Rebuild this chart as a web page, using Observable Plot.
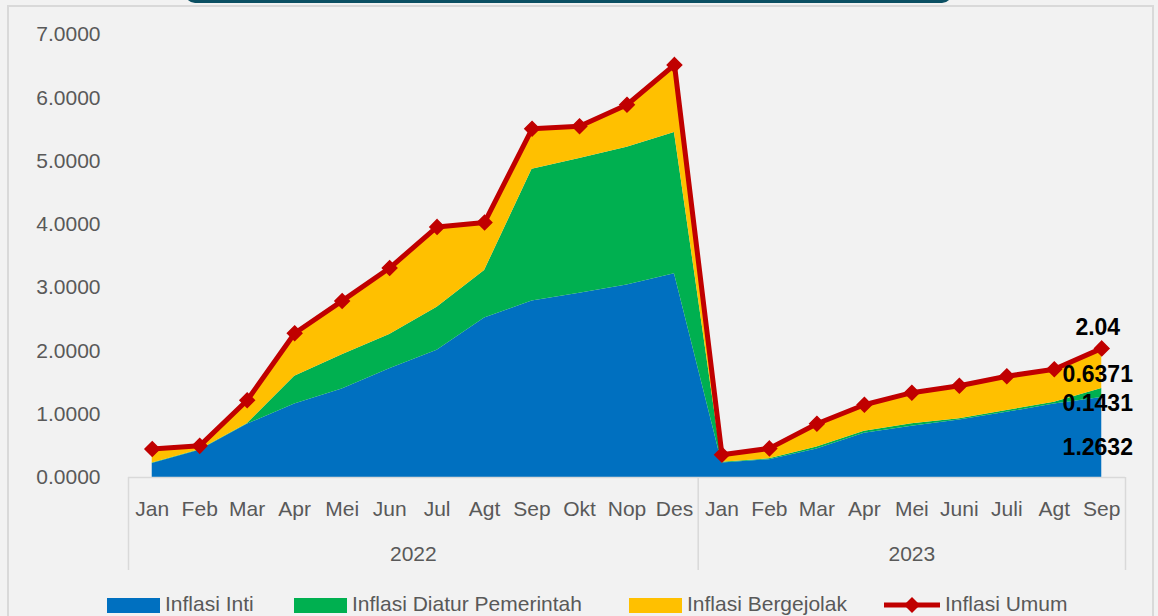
<!DOCTYPE html>
<html>
<head>
<meta charset="utf-8">
<script src="https://cdn.jsdelivr.net/npm/d3@7"></script>
<script src="https://cdn.jsdelivr.net/npm/@observablehq/plot@0.6"></script>
<style>
  html, body { margin: 0; padding: 0; background: #f2f2f2; width: 1158px; height: 616px; overflow: hidden;
    font-family: "Liberation Sans", Arial, sans-serif; }
  #wrap { position: relative; width: 1158px; height: 616px; }
  .frame { position: absolute; left: 7px; top: 5px; width: 1147px; height: 660px; border: 2px solid #d9d9d9; box-sizing: border-box; }
  .band { position: absolute; left: 185px; top: -12px; width: 767px; height: 15px; background: #0b5063; border-radius: 0 0 10px 10px; }
  #chart { position: absolute; left: 0; top: 0; }
  #legend { position: absolute; left: 0; top: 592px; width: 1158px; height: 24px;
    font-size: 21px; color: #595959; line-height: 24px; white-space: nowrap; }
  .item { position: absolute; top: 0; display: flex; align-items: flex-start; gap: 5px; height: 24px; }
  .item:nth-child(1) { left: 107px; }
  .item:nth-child(2) { left: 294px; }
  .item:nth-child(3) { left: 629px; }
  .item:nth-child(4) { left: 884px; }
  .sw { width: 53px; height: 15px; display: inline-block; margin-top: 6px; }
  .item svg { margin-top: 3px; }
</style>
</head>
<body>
<div id="wrap">
  <div class="frame"></div>
  <div class="band"></div>
  <div id="chart"></div>
  <div id="legend"></div>
</div>
<script>
// ---- data ----
const months2022 = ["Jan","Feb","Mar","Apr","Mei","Jun","Jul","Agt","Sep","Okt","Nop","Des"];
const months2023 = ["Jan","Feb","Mar","Apr","Mei","Juni","Juli","Agt","Sep"];
const years = ["2022", "2023"];
const seriesNames = ["Inflasi Inti", "Inflasi Diatur Pemerintah", "Inflasi Bergejolak"];
const lineName = "Inflasi Umum";
const inti       = [0.22, 0.43, 0.84, 1.16, 1.40, 1.72, 2.01, 2.52, 2.79, 2.91, 3.04, 3.22,
                    0.23, 0.28, 0.45, 0.70, 0.81, 0.91, 1.03, 1.16, 1.2632];
const diatur     = [0.01, 0.01, 0.01, 0.44, 0.54, 0.54, 0.68, 0.75, 2.08, 2.13, 2.18, 2.23,
                    0.01, 0.015, 0.03, 0.03, 0.04, 0.02, 0.03, 0.03, 0.1431];
const bergejolak = [0.22, 0.06, 0.37, 0.68, 0.85, 1.05, 1.27, 0.76, 0.64, 0.51, 0.67, 1.07,
                    0.12, 0.165, 0.37, 0.42, 0.49, 0.52, 0.54, 0.52, 0.6371];
const umum       = [0.45, 0.50, 1.22, 2.28, 2.79, 3.31, 3.96, 4.03, 5.51, 5.55, 5.89, 6.52,
                    0.36, 0.46, 0.85, 1.15, 1.34, 1.45, 1.60, 1.71, 2.04];
const yTicks = [0, 1, 2, 3, 4, 5, 6, 7];

// ---- styles ----
const colors = ["#0070c0", "#00b050", "#ffc000"];
const lineColor = "#c00000";
const textColor = "#595959";
const gridColor = "#d9d9d9";

// ---- derived tables ----
const labels = months2022.concat(months2023);
const n = labels.length, n1 = months2022.length, n2 = months2023.length;
const idx = d3.range(n);
const seriesVals = [inti, diatur, bergejolak];
const long = [];
seriesNames.forEach((s, k) => idx.forEach(i => long.push({i, series: s, value: seriesVals[k][i]})));
const lineData = idx.map(i => ({i, value: umum[i]}));
const groupCenters = [(n1 - 1) / 2, n1 + (n2 - 1) / 2];
const separators = [-0.5, n1 - 0.5, n - 0.5];
const last = n - 1;
const f4 = d3.format(".4f"), f2 = d3.format(".2f");
const endLabels = [
  {y: inti[last] / 2, t: f4(inti[last]), dy: 10},
  {y: inti[last] + diatur[last] / 2, t: f4(diatur[last]), dy: 11},
  {y: inti[last] + diatur[last] + bergejolak[last] / 2, t: f4(bergejolak[last]), dy: 6},
  {y: umum[last], t: f2(umum[last]), dy: -21}
];

const chart = Plot.plot({
  width: 1158,
  height: 590,
  marginLeft: 128,
  marginRight: 33,
  marginTop: 34,
  marginBottom: 113,
  style: {background: "transparent", fontFamily: "'Liberation Sans', Arial, sans-serif", fontSize: "21px", color: textColor},
  x: {type: "linear", domain: [-0.5, n - 0.5]},
  y: {domain: [0, 7]},
  color: {domain: seriesNames, range: colors},
  marks: [
    Plot.areaY(long, {x: "i", y: "value", fill: "series"}),
    Plot.ruleY([0], {stroke: gridColor, strokeWidth: 1.5}),
    Plot.axisY({ticks: yTicks, tickFormat: f4, tickSize: 0, tickPadding: 28, label: null, fontSize: 21}),
    Plot.axisX({ticks: idx, tickFormat: i => labels[i], tickSize: 0, tickPadding: 24, label: null, fontSize: 21}),
    Plot.axisX({ticks: groupCenters, tickFormat: d => years[groupCenters.indexOf(d)], tickSize: 0, tickPadding: 69, label: null, fontSize: 21}),
    Plot.axisX({ticks: separators, tickFormat: () => "", tickSize: 93, stroke: gridColor, strokeWidth: 1.5, label: null}),
    Plot.line(lineData, {x: "i", y: "value", stroke: lineColor, strokeWidth: 5}),
    Plot.dot(lineData, {x: "i", y: "value", symbol: "diamond2", r: 6.5, fill: lineColor, stroke: lineColor}),
    ...endLabels.map(d => Plot.text([d], {x: () => last, y: "y", text: "t", dy: d.dy, dx: -4,
      fontSize: 23, fontWeight: "bold", fill: "#000"}))
  ]
});
document.getElementById("chart").appendChild(chart);

// ---- legend ----
const legend = document.getElementById("legend");
seriesNames.forEach((s, k) => {
  const it = document.createElement("div");
  it.className = "item";
  it.innerHTML = `<span class="sw" style="background:${colors[k]}"></span><span>${s}</span>`;
  legend.appendChild(it);
});
const li = document.createElement("div");
li.className = "item";
li.innerHTML = `<svg width="56" height="20"><line x1="0" y1="10" x2="56" y2="10" stroke="${lineColor}" stroke-width="5"/>
  <path d="M28 2 L36 10 L28 18 L20 10 Z" fill="${lineColor}"/></svg><span>${lineName}</span>`;
legend.appendChild(li);
</script>
</body>
</html>
